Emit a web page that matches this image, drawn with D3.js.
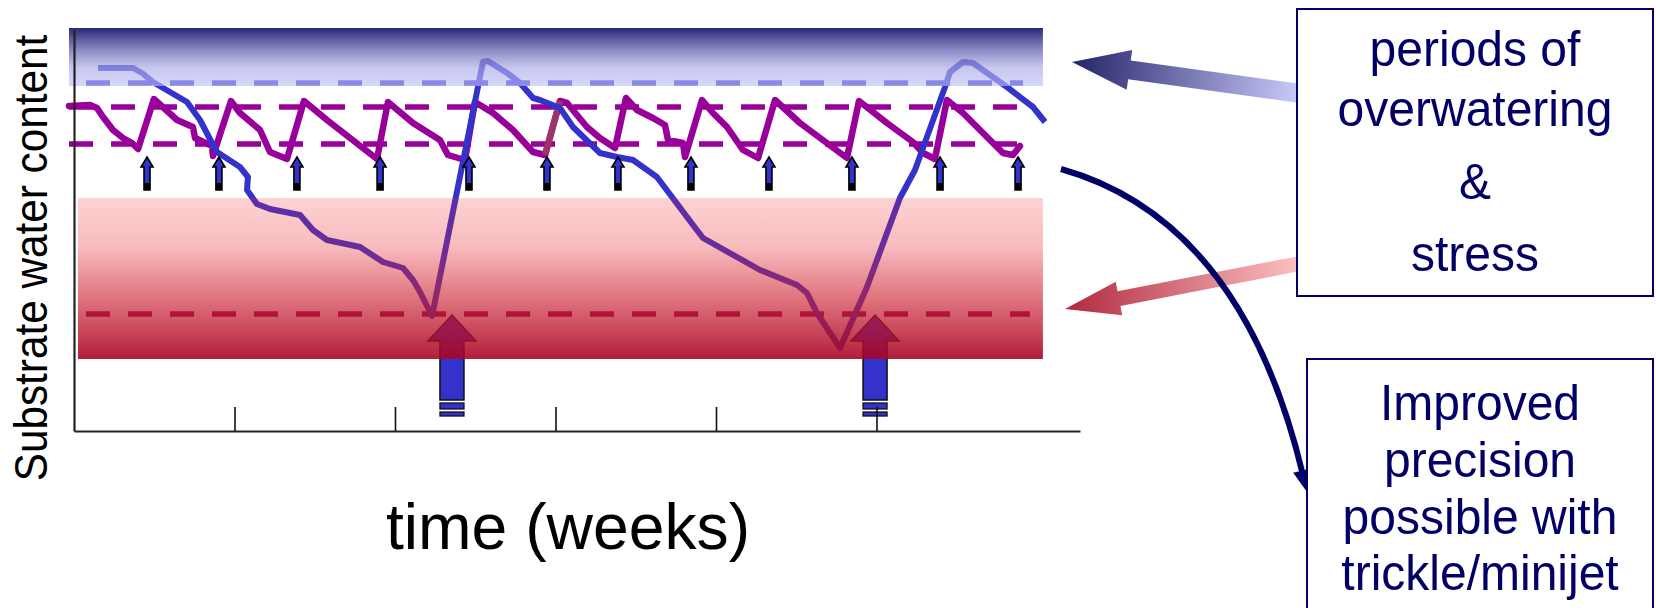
<!DOCTYPE html>
<html><head><meta charset="utf-8">
<script src="https://cdn.jsdelivr.net/npm/d3@7"></script>
<style>html,body{margin:0;padding:0;background:#fff;overflow:hidden}svg{display:block}</style>
</head><body>
<svg id="chart" width="1656" height="608"></svg>
<script>
// ---------------- DATA ----------------
const weekTicks = [1, 2, 3, 4, 5];

// Conventional (overhead) irrigation: substrate water content over time
const conventionalWeeks = [0.150,0.368,0.424,0.492,0.704,0.785,0.860,0.891,1.034,1.084,1.078,1.140,1.221,1.408,1.489,1.576,1.782,1.925,2.050,2.112,2.156,2.231,2.548,2.579,2.698,2.779,2.860,2.903,3.028,3.109,3.277,3.383,3.483,3.632,3.857,3.919,4.274,4.505,4.567,4.629,4.773,4.941,5.146,5.240,5.427,5.458,5.539,5.601,5.813,5.975,6.050];
const conventionalValues = [90.75,90.75,89.5,87.25,82.25,77.75,72.0,69.75,66.0,63.5,60.25,56.75,55.5,54.0,50.25,47.75,46.0,42.25,40.75,37.75,34.75,28.75,92.25,92.5,89.5,87.0,83.25,82.75,80.75,76.0,69.5,68.5,67.75,63.5,51.5,48.25,40.25,36.5,34.5,29.5,20.75,36.0,58.25,65.25,86.0,89.75,92.25,92.0,86.0,81.0,77.25];

// Precision (trickle / minijet) irrigation
const precisionWeeks = [-0.031,0.100,0.143,0.181,0.243,0.305,0.361,0.399,0.498,0.642,0.741,0.754,0.860,0.866,0.978,1.034,1.159,1.221,1.327,1.433,1.576,1.888,1.956,2.112,2.280,2.330,2.436,2.498,2.611,2.735,2.860,2.935,3.028,3.072,3.196,3.277,3.371,3.439,3.508,3.607,3.682,3.701,3.794,3.807,3.913,3.981,4.069,4.168,4.262,4.368,4.523,4.816,4.891,5.065,5.227,5.290,5.364,5.439,5.539,5.645,5.788,5.850,5.894];
const precisionValues = [81.25,81.5,80.75,78.5,75.25,73.25,72.0,70.5,83.0,77.75,76.0,73.25,71.25,68.75,82.5,79.5,75.25,69.75,68.0,82.5,77.75,68.0,82.25,77.0,72.75,69.0,67.75,82.25,79.5,75.25,69.75,69.0,82.5,82.0,76.0,73.25,70.75,83.25,80.25,78.25,76.5,72.75,72.0,68.5,82.75,79.5,76.0,70.25,68.25,82.75,77.0,68.25,82.5,77.0,72.25,69.5,68.0,82.75,79.5,75.25,69.5,69.0,71.25];
const precisionHighlightIndex = [31, 32];   // rising segment drawn in a darker red-purple

// Irrigation events
const precisionIrrigationWeeks = [0.455,0.903,1.389,1.907,2.461,2.947,3.389,3.844,4.330,4.847,5.396,5.882];
const precisionIrrigationLevel = 68.5;
const conventionalIrrigationWeeks = [2.355, 4.991];
const conventionalIrrigationLevel = 29;

// Threshold (dashed) lines
const thresholdNames  = ["overwater", "precisionHigh", "precisionLow", "stress"];
const thresholdValues = [87.0, 81.0, 71.75, 29.25];
const thresholdStart  = [0.075, -0.031, -0.031, 0.075];
const thresholdEnd    = [5.913, 5.894, 5.894, 5.956];

// Shaded zones
const zoneNames = ["overwatering", "stress"];
const zoneLow   = [86.25, 18.0];
const zoneHigh  = [100.75, 58.25];
const zoneStart = [-0.031, 0.025];
const zoneEnd   = [6.037, 6.037];

// Texts
const yLabel = "Substrate water content";
const xLabel = "time (weeks)";
const box1Lines = ["periods of", "overwatering", "&", "stress"];
const box2Lines = ["Improved", "precision", "possible with", "trickle/minijet"];

// ---------------- STYLES / LAYOUT ----------------
const BLUE = "#3333cc", PURPLE = "#990099", NAVY = "#000066", MAROON = "#9c3468";
const svg = d3.select("#chart");
const x = d3.scaleLinear().domain([0, 6.268]).range([74, 1080]);
const y = d3.scaleLinear().domain([0, 100.25]).range([431, 30]);

const defs = svg.append("defs");
function vGrad(id, stops) {
  const g = defs.append("linearGradient").attr("id", id).attr("x1", 0).attr("y1", 0).attr("x2", 0).attr("y2", 1);
  stops.forEach(s => g.append("stop").attr("offset", s[0]).attr("stop-color", s[1]).attr("stop-opacity", s[2]));
}
vGrad("gOver", [[0, "rgb(40,40,115)", 1], [0.35, "rgb(99,99,174)", 0.8], [0.7, "rgb(171,171,232)", 0.65], [1, "rgb(192,192,248)", 0.63]]);
vGrad("gStress", [[0, "rgb(245,30,30)", 0.2], [0.3, "rgb(230,30,40)", 0.3], [0.6, "rgb(205,30,47)", 0.6], [1, "rgb(167,5,35)", 0.9]]);

const line = d3.line().x(d => x(d[0])).y(d => y(d[1]));

const pts = precisionWeeks.map((w, i) => [w, precisionValues[i]]);
const convPts = conventionalWeeks.map((w, i) => [w, conventionalValues[i]]);

const dashStyle = [BLUE, PURPLE, PURPLE, "#8c0a5a"];
thresholdNames.forEach((n, i) => {
  svg.append("line")
    .attr("x1", x(thresholdStart[i])).attr("x2", x(thresholdEnd[i]))
    .attr("y1", y(thresholdValues[i])).attr("y2", y(thresholdValues[i]))
    .attr("stroke", dashStyle[i]).attr("stroke-width", 5.5)
    .attr("stroke-dasharray", "24,18");
});

svg.append("path").datum(pts).attr("d", line)
  .attr("fill", "none").attr("stroke", PURPLE).attr("stroke-width", 6.5)
  .attr("stroke-linejoin", "round").attr("stroke-linecap", "round");
svg.append("path").datum(precisionHighlightIndex.map(i => pts[i])).attr("d", line)
  .attr("fill", "none").attr("stroke", MAROON).attr("stroke-width", 6.5);

svg.append("path").datum(convPts).attr("d", line)
  .attr("fill", "none").attr("stroke", BLUE).attr("stroke-width", 6)
  .attr("stroke-linejoin", "round").attr("stroke-linecap", "butt");

// big irrigation arrows (conventional)
conventionalIrrigationWeeks.forEach(w => {
  const g = svg.append("g").attr("transform", `translate(${x(w)},${y(conventionalIrrigationLevel)})`);
  g.append("path").attr("d", "M0,0 L24,26 L12,26 L12,85 L-12,85 L-12,26 L-24,26 Z")
    .attr("fill", BLUE).attr("stroke", "#111").attr("stroke-width", 1.5);
  g.append("rect").attr("x", -12).attr("y", 88).attr("width", 24).attr("height", 6)
    .attr("fill", BLUE).attr("stroke", "#111").attr("stroke-width", 1.3);
  g.append("rect").attr("x", -12).attr("y", 97).attr("width", 24).attr("height", 4)
    .attr("fill", BLUE).attr("stroke", "#111").attr("stroke-width", 1.3);
});

// zones
zoneNames.forEach((n, i) => {
  svg.append("rect")
    .attr("x", x(zoneStart[i])).attr("width", x(zoneEnd[i]) - x(zoneStart[i]))
    .attr("y", y(zoneHigh[i])).attr("height", y(zoneLow[i]) - y(zoneHigh[i]))
    .attr("fill", i === 0 ? "url(#gOver)" : "url(#gStress)");
});

// axes
const xAxis = d3.axisBottom(x).tickValues(weekTicks).tickFormat("").tickSizeInner(-24).tickSizeOuter(0);
const gx = svg.append("g").attr("transform", `translate(0,${y(0)})`).call(xAxis);
gx.select(".domain").attr("stroke", "#222").attr("stroke-width", 2.2);
gx.selectAll(".tick line").attr("stroke", "#111").attr("stroke-width", 1.6);
const yAxis = d3.axisLeft(y).tickValues([]).tickSizeOuter(0);
const gy = svg.append("g").attr("transform", `translate(${x(0)},0)`).call(yAxis);
gy.select(".domain").attr("stroke", "#222").attr("stroke-width", 2.2);

// small irrigation arrows (precision)
precisionIrrigationWeeks.forEach(w => {
  const g = svg.append("g").attr("transform", `translate(${x(w)},${y(precisionIrrigationLevel)})`);
  g.append("path").attr("d", "M0,0 L6,10 L3,10 L3,33 L-3,33 L-3,10 L-6,10 Z")
    .attr("fill", BLUE).attr("stroke", "#000").attr("stroke-width", 1.6).attr("stroke-linejoin", "miter");
  g.append("rect").attr("x", -3).attr("y", 26).attr("width", 6).attr("height", 7).attr("fill", "#000");
});

// axis labels
svg.append("text").text(yLabel)
  .attr("transform", "translate(47,258) rotate(-90) scale(0.9,1)")
  .attr("text-anchor", "middle").attr("font-family", "Liberation Sans, Arial, sans-serif")
  .attr("font-size", 47).attr("fill", "#000");
svg.append("text").text(xLabel)
  .attr("transform", "translate(568,549) scale(1.02,1.04)").attr("text-anchor", "middle")
  .attr("font-family", "Liberation Sans, Arial, sans-serif").attr("font-size", 63).attr("fill", "#000");

// ---------------- CALLOUTS ----------------
function arrowPoly(tip, tail, shaftW, headW, headL) {
  const dx = tip[0] - tail[0], dy = tip[1] - tail[1], len = Math.hypot(dx, dy);
  const ux = dx / len, uy = dy / len, nx = -uy, ny = ux;
  const bx = tip[0] - ux * headL, by = tip[1] - uy * headL;
  return [[tail[0] + nx * shaftW / 2, tail[1] + ny * shaftW / 2], [bx + nx * shaftW / 2, by + ny * shaftW / 2],
          [bx + nx * headW / 2, by + ny * headW / 2], tip, [bx - nx * headW / 2, by - ny * headW / 2],
          [bx - nx * shaftW / 2, by - ny * shaftW / 2], [tail[0] - nx * shaftW / 2, tail[1] - ny * shaftW / 2]];
}
function lGrad(id, a, b, c0, c1) {
  const g = defs.append("linearGradient").attr("id", id).attr("gradientUnits", "userSpaceOnUse")
    .attr("x1", a[0]).attr("y1", a[1]).attr("x2", b[0]).attr("y2", b[1]);
  g.append("stop").attr("offset", 0).attr("stop-color", c0);
  g.append("stop").attr("offset", 1).attr("stop-color", c1);
}
const c1Tip = [1072, 62], c1Tail = [1297, 93];
const c2Tip = [1065, 309], c2Tail = [1297, 264];
lGrad("gA1", c1Tip, c1Tail, "rgb(35,35,105)", "rgb(200,200,248)");
lGrad("gA2", c2Tip, c2Tail, "rgb(176,40,62)", "rgb(252,192,192)");
svg.append("polygon").attr("points", arrowPoly(c1Tip, c1Tail, 19, 40, 58).join(" ")).attr("fill", "url(#gA1)");
svg.append("polygon").attr("points", arrowPoly(c2Tip, c2Tail, 15, 34, 55).join(" ")).attr("fill", "url(#gA2)");

// curved navy arrow
const cStart = [1061, 169], cCtrl = [1242, 220], cTip = [1307, 492];
{
  const dx = cTip[0] - cCtrl[0], dy = cTip[1] - cCtrl[1], len = Math.hypot(dx, dy);
  const ux = dx / len, uy = dy / len, hl = 22, hw = 9;
  const bx = cTip[0] - ux * hl, by = cTip[1] - uy * hl;
  const p = d3.path(); p.moveTo(cStart[0], cStart[1]); p.quadraticCurveTo(cCtrl[0], cCtrl[1], bx + ux * 4, by + uy * 4);
  svg.append("path").attr("d", p.toString()).attr("fill", "none").attr("stroke", NAVY).attr("stroke-width", 6);
  svg.append("polygon").attr("points", [cTip, [bx - uy * hw, by + ux * hw], [bx + uy * hw, by - ux * hw]].join(" ")).attr("fill", NAVY);
}

// boxes
function box(x0, y0, w, h, cx, lines, baselines) {
  svg.append("rect").attr("x", x0).attr("y", y0).attr("width", w).attr("height", h)
    .attr("fill", "#fff").attr("stroke", NAVY).attr("stroke-width", 2);
  lines.forEach((t, i) => svg.append("text").text(t)
    .attr("transform", `translate(${cx},${baselines[i]}) scale(1,1.06)`).attr("text-anchor", "middle")
    .attr("font-family", "Liberation Sans, Arial, sans-serif").attr("font-size", 48).attr("fill", NAVY));
}
box(1297, 9, 356, 287, 1475, box1Lines, [66, 126, 199, 271]);
box(1307, 359, 346, 260, 1480, box2Lines, [420, 477, 534, 590]);
</script>
</body></html>
